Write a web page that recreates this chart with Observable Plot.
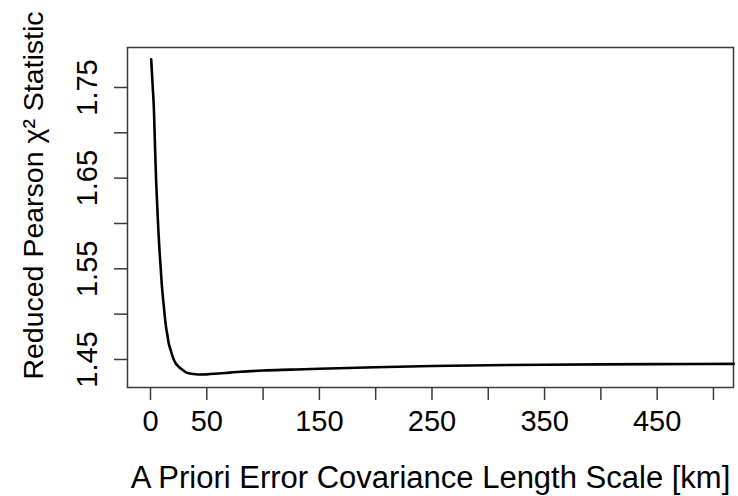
<!DOCTYPE html>
<html>
<head>
<meta charset="utf-8">
<script src="https://cdn.jsdelivr.net/npm/d3@7"></script>
<script src="https://cdn.jsdelivr.net/npm/@observablehq/plot@0.6"></script>
<style>
  html, body { margin: 0; padding: 0; background: #fff; }
  #chart { width: 738px; height: 496px; }
</style>
</head>
<body>
<div id="chart"></div>
<script>
// Length scale (km)
const lengthScale = [0.6, 2, 3, 4, 5, 6, 7, 8, 9, 10, 11, 12, 13, 14, 15, 16, 18, 20, 22, 25, 28, 32, 36, 40, 45, 50, 60, 70, 80, 100, 125, 150, 200, 250, 300, 350, 400, 450, 518];
// Reduced Pearson chi^2 statistic
const chiSq = [1.781, 1.750, 1.727, 1.685, 1.647, 1.619, 1.592, 1.570, 1.552, 1.533, 1.519, 1.506, 1.494, 1.484, 1.477, 1.469, 1.460, 1.452, 1.4465, 1.442, 1.439, 1.4355, 1.4343, 1.4337, 1.4335, 1.4336, 1.4345, 1.4355, 1.4365, 1.4378, 1.4388, 1.4398, 1.4415, 1.4428, 1.4437, 1.4442, 1.4446, 1.4449, 1.4452];

const xTicks = [0, 50, 100, 150, 200, 250, 300, 350, 400, 450, 500];
const xTickLabels = [0, 50, 150, 250, 350, 450];
const yTicks = [1.45, 1.50, 1.55, 1.60, 1.65, 1.70, 1.75];
const yTickLabels = [1.45, 1.55, 1.65, 1.75];

const xTitle = "A Priori Error Covariance Length Scale [km]";
const yTitle = "Reduced Pearson \u03C7\u00B2 Statistic";

const data = lengthScale.map((x, i) => ({x, y: chiSq[i]}));

const axisColor = "#3a3a3a";

const chart = Plot.plot({
  width: 738,
  height: 496,
  marginLeft: 127,
  marginRight: 5,
  marginTop: 47,
  marginBottom: 109,
  style: {fontFamily: "'Liberation Sans', Arial, Helvetica, sans-serif", background: "#fff", color: "#000"},
  x: {domain: [-20.43, 517.8], label: null},
  y: {domain: [1.4191, 1.7941], label: null},
  marks: [
    Plot.frame({stroke: axisColor, strokeWidth: 1.5}),
    Plot.axisX({ticks: xTicks, tickSize: 13, tickPadding: 10, fontSize: 29,
      stroke: axisColor, strokeWidth: 1.5, fill: "#000", label: null,
      tickFormat: d => xTickLabels.includes(d) ? String(d) : ""}),
    Plot.axisY({ticks: yTicks, tickSize: 13, stroke: axisColor, strokeWidth: 1.5,
      label: null, tickFormat: () => ""}),
    Plot.text(yTickLabels, {y: d => d, text: d => d.toFixed(2), frameAnchor: "left",
      dx: -39.6, rotate: -90, fontSize: 29, textAnchor: "middle", lineAnchor: "middle", fill: "#000"}),
    Plot.text([yTitle], {text: d => d, frameAnchor: "left", dx: -94, dy: -22,
      rotate: -90, fontSize: 28.5, textAnchor: "middle", lineAnchor: "middle", fill: "#000"}),
    Plot.text([xTitle], {text: d => d, frameAnchor: "bottom", dy: 91,
      fontSize: 31, textAnchor: "middle", lineAnchor: "middle", fill: "#000"}),
    Plot.line(data, {x: "x", y: "y", stroke: "#000", strokeWidth: 2.6, curve: "monotone-x"})
  ]
});
document.getElementById("chart").appendChild(chart);
</script>
</body>
</html>
